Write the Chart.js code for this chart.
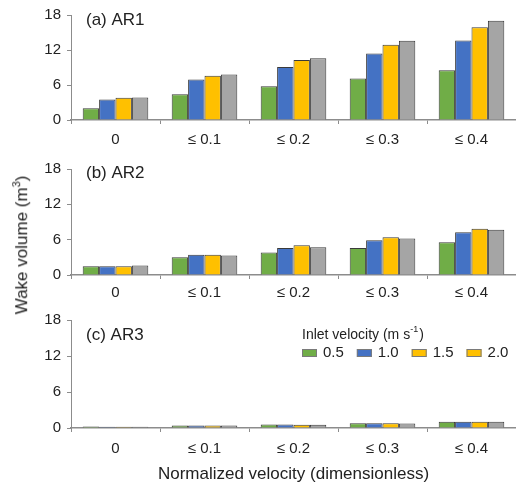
<!DOCTYPE html>
<html>
<head>
<meta charset="utf-8">
<script src="https://cdn.jsdelivr.net/npm/chart.js@4.4.1/dist/chart.umd.min.js"></script>
<style>
  html, body { margin: 0; padding: 0; background: #fff; }
  #wrap { position: relative; width: 516px; height: 486px; overflow: hidden; font-family: "Liberation Sans", Arial, sans-serif; }
  .box { position: absolute; left: 0; width: 516px; }
  #ytitle { position: absolute; left: 21px; top: 245px; transform: translate(-50%, -50%) rotate(-90deg); white-space: nowrap; font-size: 17px; color: #222; }
  #ytitle sup { font-size: 11px; }
</style>
</head>
<body>
<div id="wrap">
  <div class="box" style="top:0;height:150px"><canvas id="cA"></canvas></div>
  <div class="box" style="top:154px;height:146px"><canvas id="cB"></canvas></div>
  <div class="box" style="top:300px;height:186px"><canvas id="cC"></canvas></div>
  <div id="ytitle">Wake volume (m<sup>3</sup>)</div>
</div>
<script>
// ---- data ----
const categories = ['0', '≤ 0.1', '≤ 0.2', '≤ 0.3', '≤ 0.4'];
const seriesLabels = ['0.5', '1.0', '1.5', '2.0'];
const yTicks = [0, 6, 12, 18];

const ar1_05 = [2.0, 4.4, 5.8, 7.1, 8.55];
const ar1_10 = [3.5, 6.95, 9.1, 11.4, 13.65];
const ar1_15 = [3.8, 7.6, 10.3, 12.9, 15.9];
const ar1_20 = [3.85, 7.8, 10.6, 13.6, 17.0];

const ar2_05 = [1.5, 3.0, 3.8, 4.6, 5.55];
const ar2_10 = [1.5, 3.45, 4.6, 5.9, 7.25];
const ar2_15 = [1.5, 3.45, 5.05, 6.4, 7.85];
const ar2_20 = [1.6, 3.3, 4.7, 6.2, 7.7];

const ar3_05 = [0.25, 0.4, 0.6, 0.8, 1.05];
const ar3_10 = [0.2, 0.4, 0.6, 0.8, 1.05];
const ar3_15 = [0.2, 0.4, 0.55, 0.8, 1.05];
const ar3_20 = [0.2, 0.4, 0.55, 0.75, 1.05];

// ---- styles ----
const barColors = ['#70AD47', '#4472C4', '#FFC000', '#A5A5A5'];
const legendColors = ['#70AD47', '#4472C4', '#FFC000', '#FFC000'];
const FONT = '"Liberation Sans", Arial, sans-serif';
const TXT = '#222';
const AXIS = '#8c8c8c';

function makeDatasets(arrs) {
  return arrs.map((d, i) => ({
    label: seriesLabels[i],
    data: d,
    backgroundColor: barColors[i],
    borderColor: '#3a3a3a',
    borderWidth: 1,
    categoryPercentage: 0.737,
    barPercentage: 1.0
  }));
}

const panelTitlePlugin = {
  id: 'panelTitle',
  afterDraw(chart, args, opts) {
    const ctx = chart.ctx;
    ctx.save();
    ctx.font = '17px ' + FONT;
    ctx.fillStyle = TXT;
    ctx.textBaseline = 'middle';
    ctx.textAlign = 'left';
    ctx.fillText(opts.text, opts.x, opts.y);
    ctx.restore();
  }
};

const inlineLegendPlugin = {
  id: 'inlineLegend',
  afterDraw(chart, args, opts) {
    if (!opts.show) return;
    const ctx = chart.ctx;
    ctx.save();
    ctx.fillStyle = TXT;
    ctx.textBaseline = 'middle';
    ctx.textAlign = 'left';
    ctx.font = '14px ' + FONT;
    const tx = opts.x, ty = opts.y;
    const t1 = 'Inlet velocity (m s';
    ctx.fillText(t1, tx, ty);
    let w = ctx.measureText(t1).width;
    ctx.font = '9px ' + FONT;
    ctx.fillText('-1', tx + w, ty - 5);
    const w2 = ctx.measureText('-1').width;
    ctx.font = '14px ' + FONT;
    ctx.fillText(')', tx + w + w2 + 1, ty);
    let x = tx;
    const iy = ty + 18;
    chart.data.datasets.forEach((ds, i) => {
      ctx.fillStyle = legendColors[i];
      ctx.fillRect(x, iy - 4, 15, 8);
      ctx.strokeStyle = '#7a7a7a';
      ctx.lineWidth = 1;
      ctx.strokeRect(x + 0.5, iy - 3.5, 14, 7);
      ctx.fillStyle = TXT;
      ctx.font = '15px ' + FONT;
      ctx.fillText(ds.label, x + 21, iy);
      x += 21 + ctx.measureText(ds.label).width + 13;
    });
    ctx.restore();
  }
};

function makeChart(id, arrs, title, titleY, opt) {
  const showX = !!opt.xTitle;
  return new Chart(document.getElementById(id), {
    type: 'bar',
    data: { labels: categories, datasets: makeDatasets(arrs) },
    plugins: [panelTitlePlugin, inlineLegendPlugin],
    options: {
      responsive: true,
      maintainAspectRatio: false,
      animation: false,
      layout: { padding: { top: opt.top, left: 0, right: 0, bottom: 0 } },
      plugins: {
        legend: { display: false },
        tooltip: { enabled: false },
        panelTitle: { text: title, x: 86, y: titleY },
        inlineLegend: opt.legend || { show: false }
      },
      scales: {
        x: {
          offset: true,
          grid: { display: true, drawOnChartArea: false, drawTicks: true, tickLength: 4, color: AXIS, offset: true },
          border: { display: true, color: AXIS, width: 1.5 },
          ticks: { color: TXT, font: { family: FONT, size: 15 }, padding: opt.tickPad, maxRotation: 0 },
          title: showX ? { display: true, text: opt.xTitle, color: TXT, font: { family: FONT, size: 17 }, padding: { top: 3, bottom: 1 } } : { display: false },
          afterFit(s) { s.height = opt.xHeight; }
        },
        y: {
          min: 0, max: 18,
          afterBuildTicks(s) { s.ticks = yTicks.map(v => ({ value: v })); },
          grid: { display: true, drawOnChartArea: false, drawTicks: true, tickLength: 4, color: AXIS },
          border: { display: true, color: AXIS, width: 1 },
          ticks: { color: TXT, font: { family: FONT, size: 15 }, padding: 6 },
          afterFit(s) { s.width = 71; }
        }
      }
    }
  });
}

makeChart('cA', [ar1_05, ar1_10, ar1_15, ar1_20], '(a) AR1', 20, { top: 9, xHeight: 30, tickPad: 7 });
makeChart('cB', [ar2_05, ar2_10, ar2_15, ar2_20], '(b) AR2', 19, { top: 9, xHeight: 25, tickPad: 5 });
makeChart('cC', [ar3_05, ar3_10, ar3_15, ar3_20], '(c) AR3', 35, {
  top: 20, xHeight: 58, tickPad: 8, xTitle: 'Normalized velocity (dimensionless)',
  legend: { show: true, x: 302, y: 35 }
});
</script>
</body>
</html>
